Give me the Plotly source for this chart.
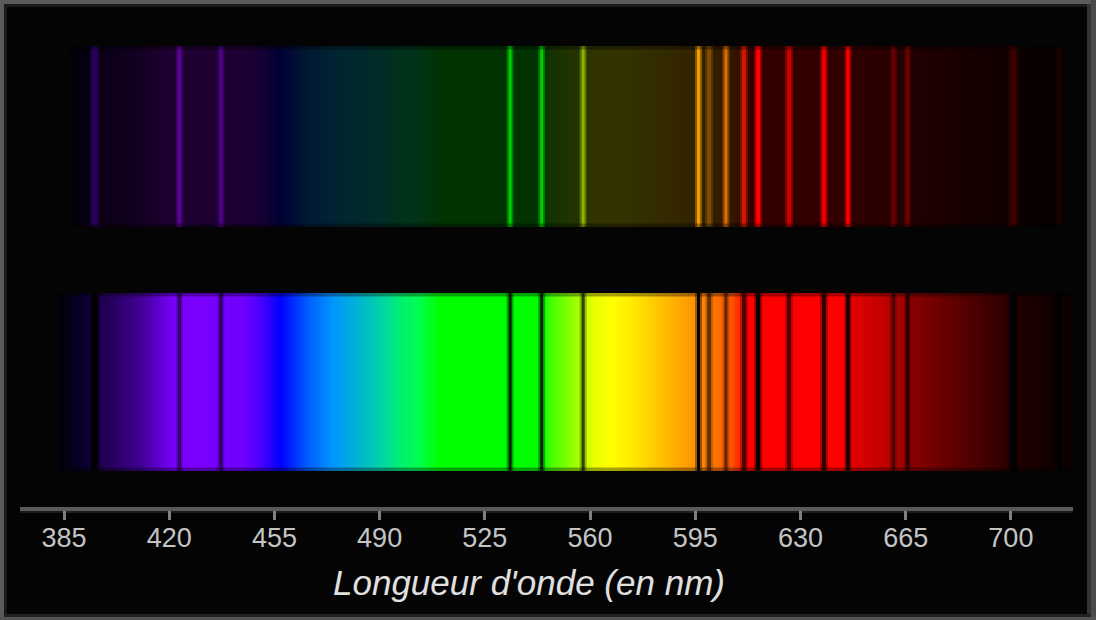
import numpy as np
import plotly.graph_objects as go

# ---------------- data ----------------
# continuous spectrum colour stops (wavelength in nm -> colour)
spectrum_nm = [383.5, 392, 398, 410, 420, 423, 445, 451.5, 457, 466.5, 474.5, 486,
               491.5, 497, 503, 510, 544, 547, 551, 557, 561, 567, 573, 584, 595.5,
               601, 607, 610, 612, 646, 648, 658, 664, 667, 675, 686, 698, 702, 715, 721.5]
spectrum_hex = ["#020008", "#0a0030", "#200050", "#3f0090", "#7000ee", "#7f00ff", "#7000ff",
                "#4000ff", "#0000ff", "#0060ff", "#0096ff", "#00c0c0", "#00d8a0", "#00f070",
                "#00ff50", "#00ff00", "#00ff00", "#44ff00", "#70ff00", "#b0ff00", "#e8ff00",
                "#ffff00", "#ffee00", "#ffc000", "#ff9000", "#ff7700", "#ff5500", "#ff2200",
                "#ff0000", "#ff0000", "#e00000", "#c00000", "#a00000", "#880000", "#700000",
                "#500000", "#300000", "#200000", "#100000", "#080000"]

# spectral lines
line_nm = [395.2, 423.4, 437.2, 533.4, 543.9, 557.7, 596.1, 599.6, 605.2, 611.2,
           615.9, 626.2, 637.8, 645.8, 660.9, 665.6, 700.8, 716.0]
emission_intensity = [0.9, 0.6, 0.55, 0.8, 0.8, 0.7, 0.95, 0.5, 0.85, 0.8,
                      1.0, 0.8, 0.9, 1.0, 0.55, 0.65, 0.9, 0.7]
absorption_depth = [0.92, 0.5, 0.55, 0.8, 0.8, 0.65, 0.97, 0.5, 0.5, 0.6,
                    0.97, 0.6, 0.75, 0.97, 0.5, 0.6, 0.9, 0.85]
line_width_px = [6, 3, 3, 3, 3, 3, 3, 4, 3, 4, 4, 4, 4, 3, 3, 3, 6, 4]

tick_vals = [385, 420, 455, 490, 525, 560, 595, 630, 665, 700]
tick_text = ["385", "420", "455", "490", "525", "560", "595", "630", "665", "700"]
axis_title = "Longueur d'onde (en nm)"

# band extents (nm)
top_band_nm = (387.0, 717.3)
bottom_band_nm = (383.5, 721.5)

# ---------------- layout constants ----------------
W, H = 1096, 620
PX_PER_NM = 3.006
REF_PX, REF_NM = 64, 385


def px_to_nm(px):
    return REF_NM + (px - REF_PX) / PX_PER_NM


X_LEFT_PX, X_RIGHT_PX = 20, 1073
PLOT_BOTTOM_PX = 507
TOP_Y = (46, 227)
BOT_Y = (293, 471)
EDGE = 3.5


def hex_rgb(h):
    h = h.lstrip("#")
    return np.array([int(h[i:i + 2], 16) for i in (0, 2, 4)], dtype=float)


stop_rgb = np.array([hex_rgb(h) for h in spectrum_hex])
stop_nm = np.array(spectrum_nm)


def spectrum_rgb(nm):
    return np.array([np.interp(nm, stop_nm, stop_rgb[:, k]) for k in range(3)])


def dim(rgb, factor=1.0, gamma=0.7):
    return 255.0 * factor * (np.clip(rgb, 0, 255) / 255.0) ** gamma


def css(rgb, a=None):
    r, g, b = [int(round(min(255, max(0, v)))) for v in rgb]
    if a is None:
        return f"rgb({r},{g},{b})"
    return f"rgba({r},{g},{b},{a:.3f})"


zmin, zmax = spectrum_nm[0], spectrum_nm[-1]
pos = [(n - zmin) / (zmax - zmin) for n in spectrum_nm]
cs_bottom = [[p, css(c)] for p, c in zip(pos, stop_rgb)]
cs_top = [[p, css(dim(c, 0.2))] for p, c in zip(pos, stop_rgb)]


def band_trace(nm_range, yr, cs):
    step = 0.25
    edges = np.arange(nm_range[0], nm_range[1] + step / 2, step)
    centers = (edges[:-1] + edges[1:]) / 2
    return go.Heatmap(x=edges, y=list(yr), z=[centers], colorscale=cs, zmin=zmin, zmax=zmax,
                      showscale=False, hoverinfo="skip", zsmooth=False)


fig = go.Figure()
fig.add_trace(band_trace(top_band_nm, TOP_Y, cs_top))
fig.add_trace(band_trace(bottom_band_nm, BOT_Y, cs_bottom))

shapes = []
for nm, inten, depth, w in zip(line_nm, emission_intensity, absorption_depth, line_width_px):
    col = dim(spectrum_rgb(nm), inten)
    # emission (top band)
    shapes.append(dict(type="line", xref="x", yref="y", x0=nm, x1=nm, y0=TOP_Y[0], y1=TOP_Y[1],
                       line=dict(color=css(col, 0.45), width=w + 4)))
    shapes.append(dict(type="line", xref="x", yref="y", x0=nm, x1=nm, y0=TOP_Y[0], y1=TOP_Y[1],
                       line=dict(color=css(col), width=w)))
    # absorption (bottom band)
    shapes.append(dict(type="line", xref="x", yref="y", x0=nm, x1=nm, y0=BOT_Y[0], y1=BOT_Y[1],
                       line=dict(color=css((0, 0, 0), 0.4 * depth), width=w + 4)))
    shapes.append(dict(type="line", xref="x", yref="y", x0=nm, x1=nm, y0=BOT_Y[0], y1=BOT_Y[1],
                       line=dict(color=css((0, 0, 0), depth), width=w)))

# darker strips at band edges
for (a, b), yr in ((top_band_nm, TOP_Y), (bottom_band_nm, BOT_Y)):
    for y0, y1 in ((yr[0], yr[0] + EDGE), (yr[1] - EDGE, yr[1])):
        shapes.append(dict(type="rect", xref="x", yref="y", x0=a, x1=b, y0=y0, y1=y1,
                           fillcolor="rgba(0,0,0,0.35)", line=dict(width=0)))


def prect(x0, x1, y0, y1, color, layer="above"):
    return dict(type="rect", xref="paper", yref="paper", x0=x0 / W, x1=x1 / W,
                y0=1 - y1 / H, y1=1 - y0 / H, fillcolor=color, line=dict(width=0), layer=layer)


# shadow under axis line
shapes.append(prect(X_LEFT_PX, X_RIGHT_PX, 511, 513, "#1c1c1c", layer="below"))
# frame
shapes += [
    prect(4, 7, 4, 616, "#1a1a1a"),
    prect(4, 1087, 4, 7, "#1a1a1a"),
    prect(1087, 1091, 4, 617, "#333333"),
    prect(4, 1091, 614, 617, "#222222"),
    prect(0, 4, 0, H, "#5a5a5a"),
    prect(0, W, 0, 4, "#5a5a5a"),
    prect(1091, W, 0, H, "#4a4a4a"),
    prect(0, W, 617, H, "#555555"),
]

fig.update_layout(
    width=W, height=H,
    margin=dict(l=0, r=0, t=0, b=0),
    paper_bgcolor="#040404",
    plot_bgcolor="#040404",
    showlegend=False,
    shapes=shapes,
    xaxis=dict(
        domain=[X_LEFT_PX / W, X_RIGHT_PX / W],
        range=[px_to_nm(X_LEFT_PX), px_to_nm(X_RIGHT_PX)],
        showgrid=False, zeroline=False,
        showline=True, linecolor="#5a5a5a", linewidth=4,
        ticks="outside", ticklen=9, tickwidth=3, tickcolor="#808080",
        tickvals=tick_vals, ticktext=tick_text,
        tickfont=dict(family="Liberation Sans", size=27, color="#c4c4c4"),
        ticklabelstandoff=-5,
        fixedrange=True,
    ),
    yaxis=dict(
        domain=[(H - PLOT_BOTTOM_PX) / H, 1],
        range=[PLOT_BOTTOM_PX, 0],
        visible=False, fixedrange=True,
    ),
    annotations=[dict(
        text=axis_title, xref="paper", yref="paper",
        x=528.5 / W, y=1 - 582 / H, xanchor="center", yanchor="middle",
        showarrow=False,
        font=dict(family="Liberation Sans", size=35, color="#e0e0e0", style="italic"),
    )],
)

fig.write_html(
    "out.html",
    config={"displayModeBar": False, "staticPlot": True},
    post_script="document.body.style.margin='0';document.body.style.padding='0';"
                "document.body.style.overflow='hidden';document.body.style.background='#040404';",
)
